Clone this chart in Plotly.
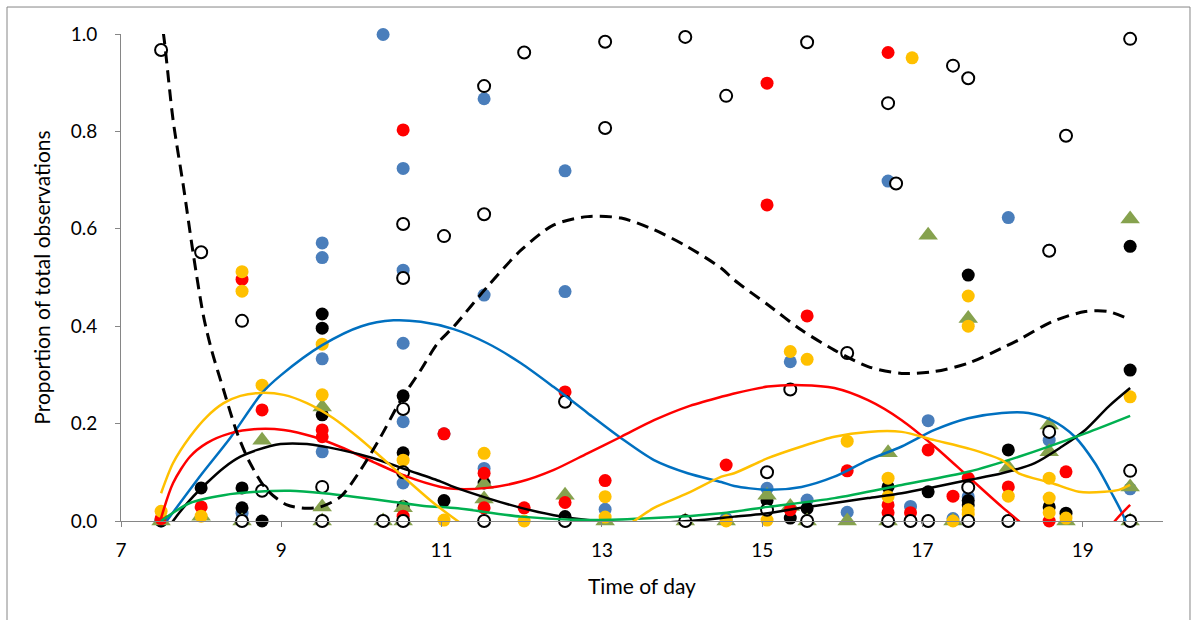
import plotly.graph_objects as go

# ---------------- observed points ----------------
blue_x = [7.5, 8.51, 9.51, 9.51, 9.51, 9.51, 10.27, 10.52, 10.52, 10.52, 10.52, 10.52, 11.03,
          11.53, 11.53, 11.53, 12.54, 12.54, 13.04, 14.55, 15.06, 15.35, 15.56, 16.06, 16.57,
          16.85, 17.07, 17.38, 17.57, 18.07, 18.58, 18.58, 19.59]
blue_y = [0.0, 0.016, 0.571, 0.541, 0.333, 0.142, 0.999, 0.724, 0.515, 0.365, 0.204, 0.078, 0.179,
          0.867, 0.464, 0.108, 0.719, 0.471, 0.024, 0.005, 0.067, 0.327, 0.043, 0.018, 0.698,
          0.03, 0.206, 0.005, 0.05, 0.623, 0.556, 0.166, 0.066]

black_x = [7.5, 8.0, 8.51, 8.51, 8.76, 9.51, 9.51, 9.51, 10.52, 10.52, 10.52, 11.03, 11.53, 12.54,
           15.06, 15.35, 15.56, 16.57, 17.07, 17.57, 17.57, 17.57, 18.07, 18.58, 18.79, 19.59, 19.59]
black_y = [0.0, 0.068, 0.068, 0.027, 0.0, 0.425, 0.396, 0.218, 0.257, 0.14, 0.03, 0.042, 0.078, 0.009,
           0.042, 0.006, 0.026, 0.07, 0.06, 0.505, 0.042, 0.033, 0.146, 0.029, 0.016, 0.564, 0.31]

green_x = [7.5, 8.0, 8.51, 8.76, 9.51, 9.51, 9.51, 10.27, 10.52, 10.52, 11.53, 11.53, 12.54, 13.04,
           14.04, 14.55, 15.06, 15.35, 15.56, 16.06, 16.57, 16.57, 17.07, 17.38, 17.57, 18.07,
           18.58, 18.58, 18.79, 19.59, 19.59, 19.59]
green_y = [0.0, 0.01, 0.0, 0.166, 0.234, 0.029, 0.0, 0.0, 0.027, 0.0, 0.075, 0.045, 0.053, 0.0,
           0.0, 0.0, 0.053, 0.03, 0.0, 0.0, 0.14, 0.0, 0.587, 0.0, 0.416, 0.11,
           0.197, 0.142, 0.0, 0.62, 0.07, 0.0]

red_x = [7.5, 8.0, 8.51, 8.76, 9.51, 9.51, 10.52, 10.52, 11.03, 11.53, 11.53, 12.03, 12.54, 12.54,
         13.04, 14.55, 15.06, 15.06, 15.35, 15.56, 16.06, 16.57, 16.57, 16.57, 16.85, 17.07,
         17.38, 17.57, 18.07, 18.58, 18.79]
red_y = [0.005, 0.029, 0.496, 0.228, 0.187, 0.173, 0.803, 0.01, 0.179, 0.098, 0.027, 0.027, 0.265, 0.038,
         0.083, 0.115, 0.899, 0.649, 0.023, 0.421, 0.103, 0.962, 0.033, 0.017, 0.017, 0.146,
         0.051, 0.088, 0.07, 0.0, 0.101]

yellow_x = [7.5, 8.0, 8.51, 8.51, 8.76, 9.51, 9.51, 10.52, 11.03, 11.53, 12.03, 13.04, 13.04, 14.04,
            14.55, 15.06, 15.35, 15.56, 16.06, 16.57, 16.57, 16.87, 17.38, 17.57, 17.57, 17.57,
            17.57, 18.07, 18.58, 18.58, 18.58, 18.79, 19.59]
yellow_y = [0.02, 0.01, 0.512, 0.472, 0.279, 0.363, 0.259, 0.125, 0.002, 0.139, 0.0, 0.05, 0.008, 0.0,
            0.0, 0.002, 0.348, 0.332, 0.164, 0.088, 0.05, 0.951, 0.0, 0.462, 0.4, 0.023,
            0.014, 0.051, 0.088, 0.047, 0.017, 0.006, 0.255]

open_x = [7.5, 8.0, 8.51, 8.51, 8.76, 9.51, 9.51, 10.27, 10.52, 10.52, 10.52, 10.52, 10.52, 11.03,
          11.53, 11.53, 11.53, 12.03, 12.54, 12.54, 13.04, 13.04, 14.04, 14.04, 14.55, 15.06, 15.06,
          15.35, 15.56, 15.56, 16.06, 16.57, 16.57, 16.67, 16.85, 17.07, 17.38, 17.57, 17.57, 17.57,
          18.07, 18.58, 18.58, 18.79, 19.59, 19.59, 19.59]
open_y = [0.967, 0.552, 0.411, 0.0, 0.062, 0.07, 0.0, 0.0, 0.61, 0.499, 0.23, 0.1, 0.0, 0.585,
          0.893, 0.63, 0.0, 0.962, 0.245, 0.0, 0.984, 0.807, 0.994, 0.0, 0.873, 0.1, 0.023,
          0.27, 0.983, 0.0, 0.345, 0.858, 0.0, 0.693, 0.0, 0.0, 0.935, 0.909, 0.069, 0.0,
          0.0, 0.555, 0.183, 0.791, 0.99, 0.103, 0.0]

# ---------------- trend lines ----------------
tb_x = [7.57, 8.0, 8.36, 8.76, 9.0, 9.51, 10.0, 10.4, 10.74, 11.15, 11.57, 11.99, 12.4, 12.82, 13.24,
        13.65, 14.07, 14.49, 14.65, 15.07, 15.49, 15.9, 16.32, 16.74, 17.15, 17.57, 17.99, 18.32,
        18.61, 18.9, 19.15, 19.36, 19.51, 19.59]
tb_y = [0.0, 0.095, 0.17, 0.263, 0.3, 0.361, 0.4, 0.412, 0.409, 0.394, 0.365, 0.324, 0.275, 0.222, 0.17,
        0.125, 0.098, 0.08, 0.072, 0.064, 0.07, 0.091, 0.125, 0.153, 0.187, 0.211, 0.222, 0.222,
        0.207, 0.173, 0.119, 0.057, 0.009, -0.03]

tr_x = [7.5, 7.65, 7.86, 8.07, 8.36, 8.7, 9.03, 9.4, 9.74, 10.15, 10.57, 10.99, 11.15, 11.57, 11.99,
        12.4, 12.82, 13.24, 13.65, 14.07, 14.49, 14.65, 15.07, 15.49, 15.9, 16.32, 16.74, 17.15,
        17.57, 17.99, 18.2, 18.5, 18.9, 19.2, 19.4, 19.59]
tr_y = [0.006, 0.078, 0.132, 0.16, 0.18, 0.189, 0.187, 0.173, 0.152, 0.121, 0.091, 0.07, 0.066, 0.068,
        0.081, 0.105, 0.139, 0.173, 0.207, 0.235, 0.255, 0.262, 0.276, 0.279, 0.273, 0.248, 0.207,
        0.153, 0.091, 0.029, 0.0, -0.05, -0.07, -0.05, 0.0, 0.033]

tk_x = [7.5, 7.65, 7.86, 8.07, 8.28, 8.49, 8.7, 8.99, 9.32, 9.74, 10.15, 10.57, 10.99, 11.15, 11.57,
        11.99, 12.4, 12.82, 13.3, 13.8, 14.24, 14.65, 15.07, 15.49, 15.9, 16.32, 16.74, 17.15, 17.57,
        17.99, 18.4, 18.74, 19.03, 19.32, 19.59]
tk_y = [-0.04, 0.0, 0.043, 0.078, 0.109, 0.132, 0.146, 0.158, 0.158, 0.146, 0.129, 0.105, 0.081, 0.07,
        0.047, 0.027, 0.012, 0.002, -0.004, -0.003, 0.002, 0.009, 0.016, 0.027, 0.037, 0.047, 0.057,
        0.07, 0.084, 0.098, 0.119, 0.153, 0.187, 0.235, 0.273]

tg_x = [7.5, 7.86, 8.28, 8.7, 9.11, 9.53, 9.95, 10.36, 10.78, 11.2, 11.99, 12.82, 13.65, 14.49, 15.07,
        15.9, 16.74, 17.57, 18.2, 19.03, 19.59]
tg_y = [0.0, 0.037, 0.053, 0.06, 0.062, 0.057, 0.049, 0.04, 0.031, 0.026, 0.009, 0.002, 0.006, 0.016,
        0.029, 0.047, 0.074, 0.101, 0.132, 0.18, 0.216]

ty_x = [7.5, 7.65, 7.86, 8.07, 8.28, 8.49, 8.74, 9.03, 9.32, 9.65, 9.95, 10.24, 10.57, 10.9, 11.2,
        11.6, 12.2, 12.8, 13.2, 13.4, 13.65, 14.07, 14.49, 14.65, 15.07, 15.49, 15.9, 16.32, 16.74,
        17.15, 17.57, 17.99, 18.2, 18.61, 18.95, 19.27, 19.45, 19.59]
ty_y = [0.057, 0.119, 0.173, 0.214, 0.242, 0.257, 0.263, 0.259, 0.242, 0.211, 0.173, 0.132, 0.084,
        0.037, 0.0, -0.045, -0.08, -0.06, -0.02, 0.0, 0.027, 0.057, 0.091, 0.098, 0.129, 0.153, 0.173,
        0.183, 0.183, 0.166, 0.149, 0.125, 0.098, 0.078, 0.06, 0.06, 0.064, 0.074]

td_x = [7.45, 7.53, 7.65, 7.78, 7.9, 8.03, 8.13, 8.28, 8.45, 8.61, 8.82, 9.07, 9.32, 9.49, 9.74, 9.99,
        10.24, 10.49, 10.74, 10.95, 11.15, 11.57, 11.99, 12.4, 12.82, 13.24, 13.65, 14.07, 14.49,
        14.65, 15.07, 15.49, 15.9, 16.32, 16.74, 17.15, 17.57, 17.99, 18.2, 18.61, 19.03, 19.32, 19.59]
td_y = [1.08, 1.0, 0.823, 0.686, 0.55, 0.42, 0.351, 0.269, 0.18, 0.119, 0.064, 0.033, 0.026, 0.029,
        0.05, 0.105, 0.173, 0.248, 0.31, 0.365, 0.399, 0.481, 0.556, 0.608, 0.625, 0.622, 0.598,
        0.563, 0.519, 0.495, 0.444, 0.392, 0.351, 0.317, 0.303, 0.307, 0.324, 0.355, 0.372, 0.409,
        0.43, 0.43, 0.413]

x_ticks = [7, 9, 11, 13, 15, 17, 19]
y_ticks = [0.0, 0.2, 0.4, 0.6, 0.8, 1.0]

FONT = "Lato, Carlito, Calibri, sans-serif"
fig = go.Figure()

def pts(x, y, color, symbol="circle", size=13, line=None):
    fig.add_trace(go.Scatter(x=x, y=y, mode="markers", cliponaxis=False,
                             marker=dict(color=color, symbol=symbol, size=size,
                                         line=line or dict(width=0)), showlegend=False))

pts(blue_x, blue_y, "#4A7EBB")
pts(black_x, black_y, "#000000")
pts(green_x, green_y, "#86A24E", symbol="triangle-up", size=17)
pts(red_x, red_y, "#FF0000")
pts(yellow_x, yellow_y, "#FFC000")
pts(open_x, open_y, "#FFFFFF", size=12, line=dict(color="#000000", width=2))

def trend(x, y, color, dash="solid", width=2.5):
    fig.add_trace(go.Scatter(x=x, y=y, mode="lines", line=dict(color=color, width=width, dash=dash,
                             shape="spline", smoothing=0.8), showlegend=False, hoverinfo="skip"))

trend(tb_x, tb_y, "#0070C0")
trend(tr_x, tr_y, "#FF0000")
trend(tk_x, tk_y, "#000000")
trend(tg_x, tg_y, "#00B050")
trend(ty_x, ty_y, "#FFC000")
trend(td_x, td_y, "#000000", dash="12px,7px", width=3)

fig.update_layout(
    width=1198, height=620,
    margin=dict(l=121, r=35, t=34, b=99),
    paper_bgcolor="white", plot_bgcolor="white",
    font=dict(family=FONT, size=19, color="#000000"),
    xaxis=dict(range=[7, 20], tickvals=x_ticks, ticks="outside", ticklen=5, tickcolor="#868686",
               showline=True, linecolor="#868686", linewidth=1, showgrid=False, zeroline=False,
               ticklabelstandoff=7,
               title=dict(text="Time of day", standoff=19, font=dict(size=21)),
               tickfont=dict(size=19)),
    yaxis=dict(range=[0, 1.0], tickvals=y_ticks, tickformat=".1f", ticks="outside", ticklen=5,
               tickcolor="#868686", showline=True, linecolor="#868686", linewidth=1,
               showgrid=False, zeroline=False, ticklabelstandoff=14,
               title=dict(text="Proportion of total observations", standoff=14, font=dict(size=21)),
               tickfont=dict(size=19)),
    shapes=[dict(type="rect", xref="paper", yref="paper", x0=-0.1094, x1=1.0259, y0=-0.25, y1=1.0554,
                 line=dict(color="#868686", width=1), fillcolor="rgba(0,0,0,0)", layer="below")],
)

fig.write_html("out.html")
